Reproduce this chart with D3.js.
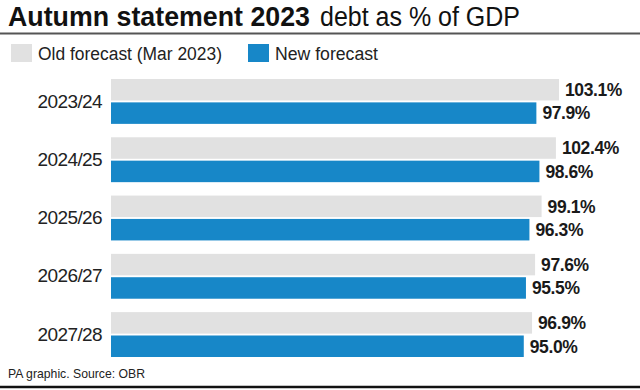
<!DOCTYPE html>
<html>
<head>
<meta charset="utf-8">
<script src="https://cdn.jsdelivr.net/npm/d3@7"></script>
<style>
  html, body { margin: 0; padding: 0; background: #fff; }
  svg { display: block; }
</style>
</head>
<body>
<svg id="chart" width="640" height="390"></svg>
<script>
const categories = ["2023/24", "2024/25", "2025/26", "2026/27", "2027/28"];
const oldForecast = [103.1, 102.4, 99.1, 97.6, 96.9];
const newForecast = [97.9, 98.6, 96.3, 95.5, 95.0];
const seriesNames = ["Old forecast (Mar 2023)", "New forecast"];
const seriesColors = ["#e1e1e1", "#1787c8"];

const svg = d3.select("#chart");
const FONT = "'Liberation Sans', Arial, sans-serif";

// Title
svg.append("text")
  .attr("x", 8).attr("y", 26)
  .attr("font-family", FONT).attr("font-size", 27).attr("font-weight", "bold")
  .attr("fill", "#111")
  .attr("textLength", 302).attr("lengthAdjust", "spacingAndGlyphs")
  .text("Autumn statement 2023");
svg.append("text")
  .attr("x", 320).attr("y", 26)
  .attr("font-family", FONT).attr("font-size", 27)
  .attr("fill", "#111")
  .attr("textLength", 200).attr("lengthAdjust", "spacingAndGlyphs")
  .text("debt as % of GDP");

svg.append("line").attr("x1", 0).attr("x2", 640).attr("y1", 33.5).attr("y2", 33.5)
  .attr("stroke", "#555").attr("stroke-width", 2);

// Legend
const legendX = [11, 248];
const legendW = [184, 103];
seriesNames.forEach((name, i) => {
  svg.append("rect").attr("x", legendX[i]).attr("y", 44).attr("width", 21).attr("height", 18)
    .attr("fill", seriesColors[i]);
  svg.append("text").attr("x", legendX[i] + 27).attr("y", 59.5)
    .attr("font-family", FONT).attr("font-size", 18).attr("fill", "#222")
    .attr("textLength", legendW[i]).attr("lengthAdjust", "spacingAndGlyphs")
    .text(name);
});

// Scales
const x = d3.scaleLinear().domain([0, 100]).range([111, 545.5]);
const y0 = d3.scaleBand().domain(categories).range([79, 357]).paddingInner(0.23).paddingOuter(0);
const y1 = d3.scaleBand().domain(["old", "new"]).range([0, y0.bandwidth()]).paddingInner(0.08);

const data = categories.map((c, i) => ({c, vals: [
  {key: "old", v: oldForecast[i], color: seriesColors[0]},
  {key: "new", v: newForecast[i], color: seriesColors[1]}
]}));

const groups = svg.append("g").selectAll("g").data(data).join("g")
  .attr("transform", d => `translate(0,${y0(d.c)})`);

groups.each(function(d) {
  const g = d3.select(this);
  g.selectAll("rect").data(d.vals).join("rect")
    .attr("x", x(0)).attr("y", v => y1(v.key))
    .attr("width", v => x(v.v) - x(0)).attr("height", y1.bandwidth())
    .attr("fill", v => v.color);
  g.selectAll("text.val").data(d.vals).join("text").attr("class", "val")
    .attr("x", v => x(v.v) + 6).attr("y", v => y1(v.key) + y1.bandwidth() / 2)
    .attr("dy", "0.36em")
    .attr("font-family", FONT).attr("font-size", 17.5).attr("font-weight", "bold")
    .attr("fill", "#1a1a1a").attr("letter-spacing", -0.4)
    .text(v => v.v.toFixed(1) + "%");
});

// Category axis
const yAxis = d3.axisLeft(y0).tickSize(0).tickPadding(9);
const ax = svg.append("g").attr("transform", `translate(${x(0)},0)`).call(yAxis);
ax.select(".domain").remove();
ax.selectAll("text").attr("font-family", FONT).attr("font-size", 19).attr("fill", "#222")
  .attr("letter-spacing", -0.6);

// Footer
svg.append("text").attr("x", 8).attr("y", 378)
  .attr("font-family", FONT).attr("font-size", 13.5).attr("fill", "#222")
  .attr("textLength", 137).attr("lengthAdjust", "spacingAndGlyphs")
  .text("PA graphic. Source: OBR");
svg.append("line").attr("x1", 0).attr("x2", 640).attr("y1", 387).attr("y2", 387)
  .attr("stroke", "#111").attr("stroke-width", 2.5);
</script>
</body>
</html>
